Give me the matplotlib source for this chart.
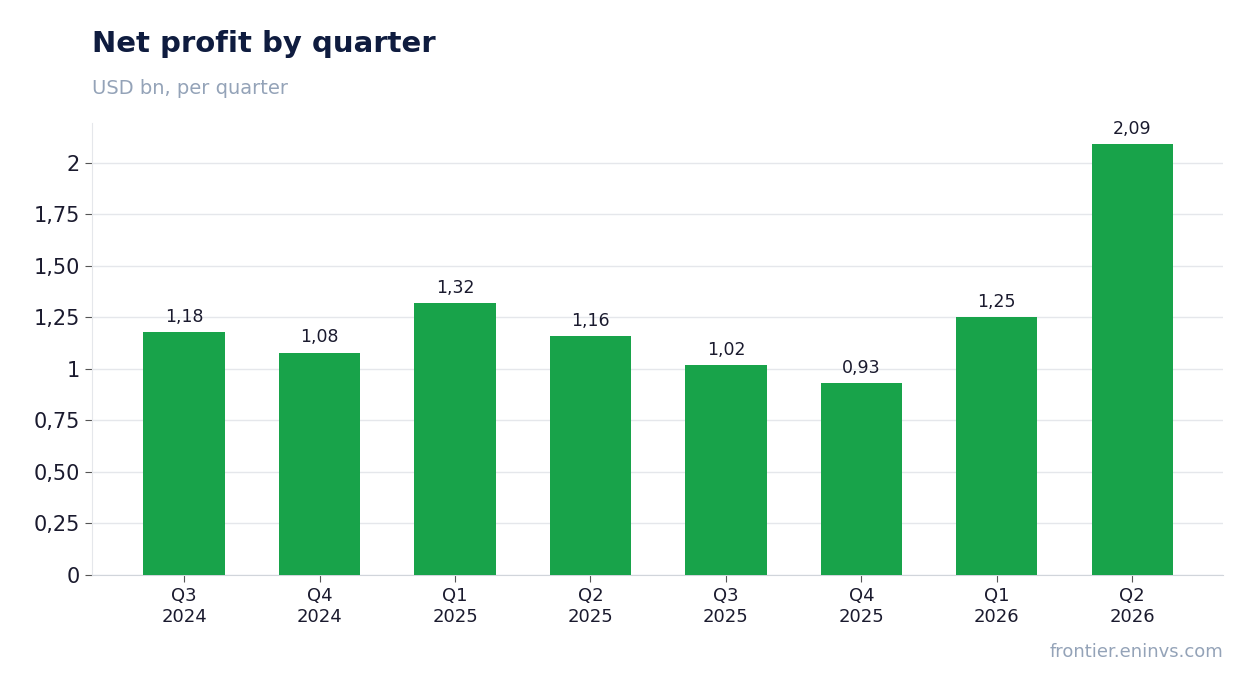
import matplotlib
matplotlib.use("Agg")
import matplotlib.pyplot as plt

categories = ["Q3\n2024", "Q4\n2024", "Q1\n2025", "Q2\n2025", "Q3\n2025", "Q4\n2025", "Q1\n2026", "Q2\n2026"]
values = [1.18, 1.08, 1.32, 1.16, 1.02, 0.93, 1.25, 2.09]
value_labels = ["1,18", "1,08", "1,32", "1,16", "1,02", "0,93", "1,25", "2,09"]
yticks = [0, 0.25, 0.5, 0.75, 1, 1.25, 1.5, 1.75, 2]
ytick_labels = ["0", "0,25", "0,50", "0,75", "1", "1,25", "1,50", "1,75", "2"]

fig = plt.figure(figsize=(12.54, 6.93), dpi=100)
ax = fig.add_axes([92/1254, 1-575/693, (1223-92)/1254, (575-123)/693])
x = list(range(len(values)))
ax.bar(x, values, width=0.6, color="#18a34a", zorder=3)
for xi, v, l in zip(x, values, value_labels):
    ax.text(xi, v + 0.03, l, ha="center", va="bottom", fontsize=12.5, color="#1a1a2e")
ax.set_xlim(-0.68, 7.67)
ax.set_ylim(0, 2.194)
ax.set_yticks(yticks)
ax.set_yticklabels(ytick_labels, fontsize=15, color="#1a1a2e")
ax.set_xticks(x)
ax.set_xticklabels(categories, fontsize=13, color="#1a1a2e")
ax.grid(axis="y", color="#e5e7eb", linewidth=1, zorder=0)
for s in ["top", "right"]:
    ax.spines[s].set_visible(False)
ax.spines["left"].set_color("#e5e7eb")
ax.spines["bottom"].set_color("#d1d5db")
ax.tick_params(axis="both", color="#555555", length=5)
fig.text(92/1254, 1-44/693, "Net profit by quarter", fontsize=21, fontweight="bold", color="#0f1c3f", va="center")
fig.text(92/1254, 1-88/693, "USD bn, per quarter", fontsize=14, color="#94a3b8", va="center")
fig.text(1223/1254, 1-652/693, "frontier.eninvs.com", fontsize=13, color="#94a3b8", va="center", ha="right")
fig.savefig("out.png", dpi=100)
